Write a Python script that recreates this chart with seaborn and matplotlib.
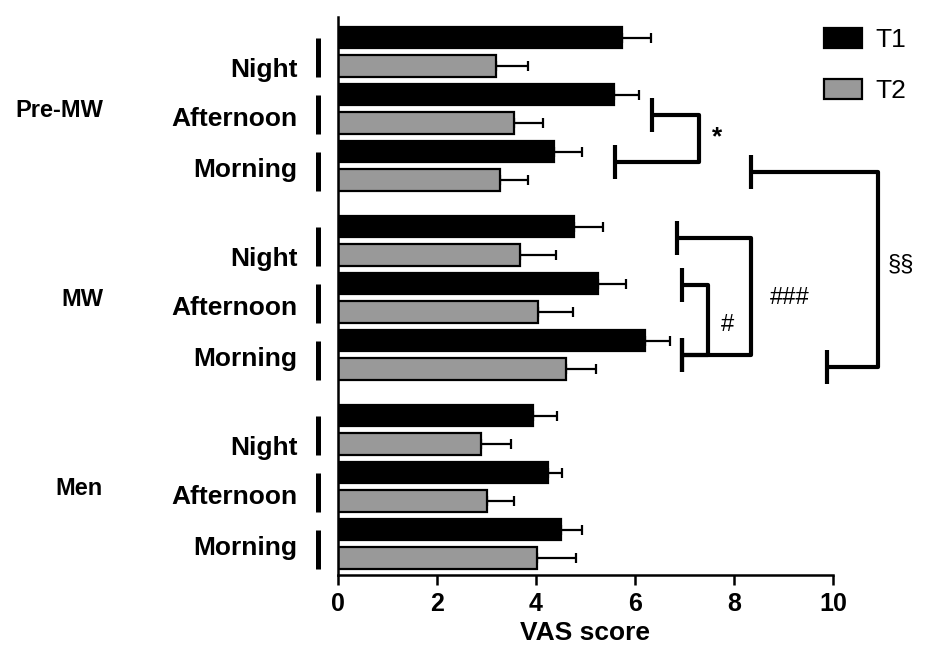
import numpy as np
import pandas as pd
import matplotlib.pyplot as plt
import matplotlib.transforms as mtransforms
from matplotlib.patches import Patch
import seaborn as sns

# Mean VAS score and SEM
groups = ['Pre-MW', 'MW', 'Men']
times = ['Night', 'Afternoon', 'Morning']
t1_mean = [[5.74, 5.58, 4.36], [4.77, 5.25, 6.21], [3.94, 4.24, 4.50]]
t1_sem = [[0.58, 0.50, 0.57], [0.58, 0.56, 0.49], [0.48, 0.29, 0.42]]
t2_mean = [[3.19, 3.56, 3.27], [3.67, 4.05, 4.60], [2.88, 3.02, 4.03]]
t2_sem = [[0.65, 0.58, 0.57], [0.73, 0.69, 0.61], [0.61, 0.54, 0.77]]

# significance brackets: (x top, y top, x bottom, y bottom, x vertical, label, label x, label y)
brackets = [
    (6.34, 1.11, 5.60, 1.93, 7.29, '*', 7.66, 1.50),
    (8.34, 2.11, 9.88, 5.53, 10.91, '§§', 11.37, 3.74),
    (6.85, 3.27, 6.95, 5.32, 8.34, '###', 9.13, 4.32),
    (6.95, 4.09, 6.95, 5.32, 7.47, '#', 7.86, 4.80),
]

GAP = 0.316
rows = []
for g, grp in enumerate(groups):
    for i, t in enumerate(times):
        c = g * (3 + GAP) + i
        rows.append({'group': grp, 'time': t, 'center': c, 'pos': c - 0.25,
                     'series': 'T1', 'value': t1_mean[g][i], 'sem': t1_sem[g][i]})
        rows.append({'group': grp, 'time': t, 'center': c, 'pos': c + 0.25,
                     'series': 'T2', 'value': t2_mean[g][i], 'sem': t2_sem[g][i]})
df = pd.DataFrame(rows)

sns.set_style('ticks')
plt.rcParams['font.family'] = ['Liberation Sans', 'DejaVu Sans']
for k in ['text.color', 'axes.labelcolor', 'xtick.color', 'ytick.color', 'axes.edgecolor']:
    plt.rcParams[k] = 'black'

fig = plt.figure(figsize=(9.25, 6.52), dpi=100)
ax = fig.add_axes([0.3654, 0.1181, 0.5351, 0.8558])

colors = {'T1': 'black', 'T2': '#999999'}
ax.errorbar(df['value'], df['pos'], xerr=[np.zeros(len(df)), df['sem']],
            fmt='none', ecolor='black', elinewidth=1.6, capsize=3.7, capthick=1.6, zorder=1)
sns.barplot(data=df, x='value', y='pos', hue='series', orient='y', native_scale=True,
            width=0.74, dodge=False, palette=colors, edgecolor='black', linewidth=1.6,
            errorbar=None, legend=False, ax=ax, zorder=2)

ax.set_xlim(0, 10)
ax.set_ylim(9.18, -0.61)
ax.set_xticks([0, 2, 4, 6, 8, 10])
ax.set_xticklabels(['0', '2', '4', '6', '8', '10'], fontsize=18, fontweight='bold')
ax.set_xlabel('VAS score', fontsize=19, fontweight='bold', labelpad=4)
ax.set_ylabel('')

label_shift = {'Night': 0.27, 'Afternoon': 0.13, 'Morning': 0.03}
centers = df.drop_duplicates('center')
ax.set_yticks(centers['center'] + centers['time'].map(label_shift))
ax.set_yticklabels(centers['time'], fontsize=19, fontweight='bold')
ax.tick_params(axis='y', length=0, pad=29)
ax.tick_params(axis='x', length=7, width=1.8, pad=5)
sns.despine(ax=ax)
for s in ['left', 'bottom']:
    ax.spines[s].set_linewidth(1.8)

trans = mtransforms.blended_transform_factory(ax.transAxes, ax.transData)
for c in centers['center']:
    ax.plot([-0.0404, -0.0404], [c - 0.25, c + 0.435], transform=trans,
            color='black', lw=3.6, solid_capstyle='butt', clip_on=False)
for g, grp in enumerate(groups):
    ax.text(-0.475, g * (3 + GAP) + 1.03, grp, transform=trans, ha='right', va='center',
            fontsize=17, fontweight='bold')

# brackets
h = 0.3
for xt, yt, xb, yb, xv, lab, lx, ly in brackets:
    kw = dict(color='black', lw=3, clip_on=False, solid_capstyle='butt')
    ax.plot([xt, xt], [yt - h, yt + h], **kw)
    ax.plot([xb, xb], [yb - h, yb + h], **kw)
    ax.plot([xt, xv, xv, xb], [yt, yt, yb, yb], **kw)
    ax.text(lx, ly, lab, ha='center', va='center', fontsize=19 if lab == '*' else 17,
            fontweight='bold' if lab == '*' else 'normal', clip_on=False)

handles = [Patch(facecolor=colors[s], edgecolor='black', linewidth=1.6) for s in ['T1', 'T2']]
fig.legend(handles, ['T1', 'T2'], loc='upper left', bbox_to_anchor=(0.891, 0.957),
           frameon=False, fontsize=19, handlelength=1.45, handleheight=0.8,
           handletextpad=0.5, labelspacing=1.0, borderaxespad=0, borderpad=0)

fig.savefig('out.png', dpi=100)
